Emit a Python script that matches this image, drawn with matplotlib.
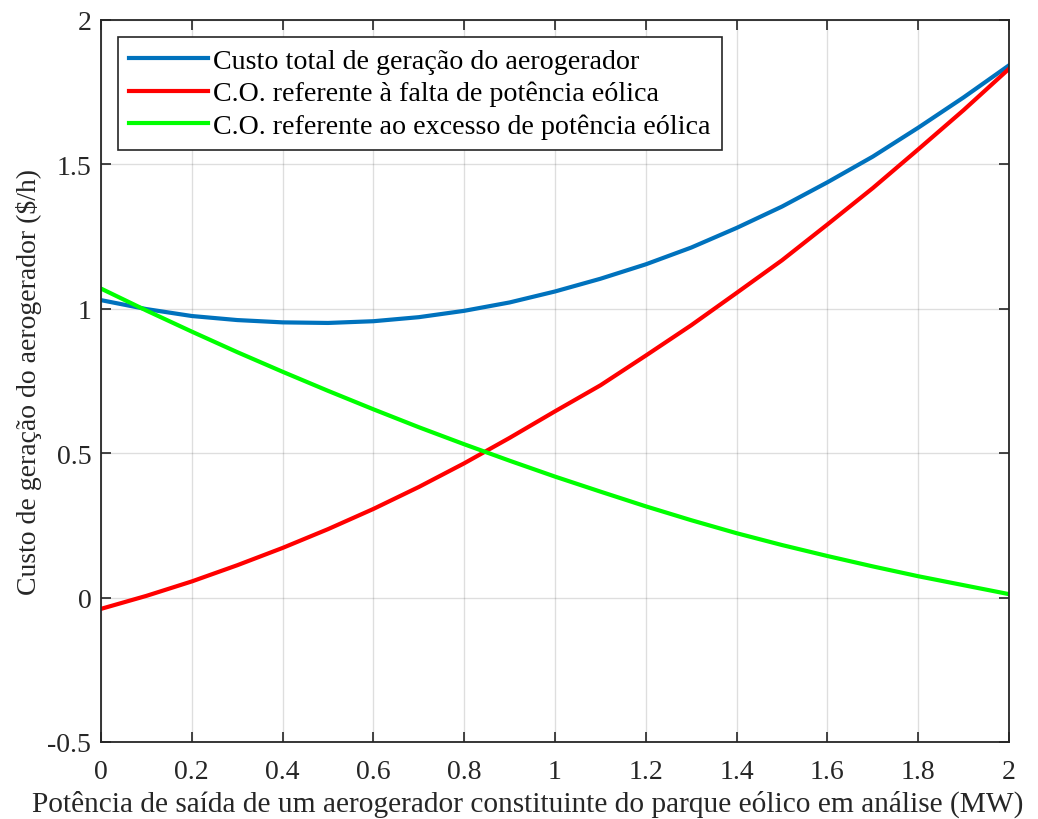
import matplotlib
matplotlib.use("Agg")
import matplotlib.pyplot as plt

# Data
x = [0.0, 0.1, 0.2, 0.3, 0.4, 0.5, 0.6, 0.7, 0.8, 0.9, 1.0,
     1.1, 1.2, 1.3, 1.4, 1.5, 1.6, 1.7, 1.8, 1.9, 2.0]
custo_total = [1.030, 0.999, 0.975, 0.961, 0.953, 0.951, 0.957, 0.971, 0.993, 1.022, 1.060,
               1.104, 1.154, 1.212, 1.280, 1.354, 1.438, 1.527, 1.627, 1.732, 1.843]
co_falta = [-0.039, 0.006, 0.056, 0.112, 0.172, 0.237, 0.307, 0.383, 0.465, 0.553, 0.645,
            0.735, 0.838, 0.943, 1.055, 1.168, 1.292, 1.418, 1.552, 1.688, 1.831]
co_excesso = [1.070, 0.994, 0.921, 0.850, 0.782, 0.716, 0.652, 0.590, 0.531, 0.474, 0.419,
              0.367, 0.316, 0.268, 0.223, 0.182, 0.144, 0.108, 0.074, 0.043, 0.012]

labels = ["Custo total de geração do aerogerador",
          "C.O. referente à falta de potência eólica",
          "C.O. referente ao excesso de potência eólica"]
xticks = [0, 0.2, 0.4, 0.6, 0.8, 1, 1.2, 1.4, 1.6, 1.8, 2]
xticklabels = ["0", "0.2", "0.4", "0.6", "0.8", "1", "1.2", "1.4", "1.6", "1.8", "2"]
yticks = [-0.5, 0, 0.5, 1, 1.5, 2]
yticklabels = ["-0.5", "0", "0.5", "1", "1.5", "2"]

plt.rcParams['font.family'] = ['Liberation Serif', 'DejaVu Serif']
FS = 20

fig = plt.figure(figsize=(10.38, 8.2), dpi=100)
ax = fig.add_axes([101/1038, 1-743/820, (1009-101)/1038, (743-21)/820])

ax.plot(x, custo_total, color='#0072BD', lw=3, label=labels[0])
ax.plot(x, co_falta, color='#FF0000', lw=3, label=labels[1])
ax.plot(x, co_excesso, color='#00FF00', lw=3, label=labels[2])

ax.set_xlim(0, 2)
ax.set_ylim(-0.5, 2)
ax.set_xticks(xticks)
ax.set_xticklabels(xticklabels)
ax.set_yticks(yticks)
ax.set_yticklabels(yticklabels)
ax.tick_params(direction='in', length=7, width=1.2, top=True, right=True,
               labelsize=FS, colors='#262626')
ax.tick_params(axis='x', pad=12)
ax.tick_params(axis='y', pad=7)
ax.grid(True, color='#262626', alpha=0.15, lw=1)
for s in ax.spines.values():
    s.set_color('#262626')
    s.set_linewidth(1.3)

ax.set_xlabel("Potência de saída de um aerogerador constituinte do parque eólico em análise (MW)",
              fontsize=21.2, color='#262626')
ax.xaxis.set_label_coords(0.470, -0.066)
ax.set_ylabel("Custo de geração do aerogerador ($/h)", fontsize=FS, color='#262626', labelpad=4)

leg = ax.legend(loc='upper left', fontsize=20.2, fancybox=False, framealpha=1,
                edgecolor='#262626', handlelength=2.8, handletextpad=0.2,
                borderaxespad=0.6, labelspacing=0.25, borderpad=0.4)
leg.get_frame().set_linewidth(1.2)

fig.savefig("out.png", dpi=100)
